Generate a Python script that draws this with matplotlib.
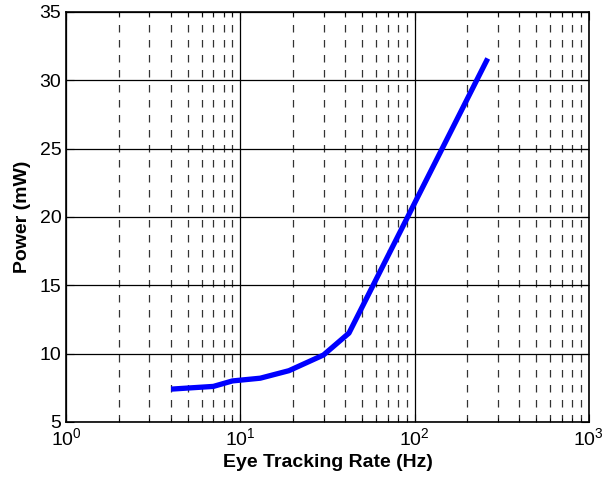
import numpy as np
import matplotlib.pyplot as plt
from matplotlib.ticker import LogLocator, NullFormatter

plt.rcParams["font.family"] = ["Liberation Sans", "DejaVu Sans"]

# eye tracking rate (Hz) vs power (mW)
rate_hz = [4, 7, 9, 13, 19, 30, 42, 263]
power_mw = [7.4, 7.6, 8.0, 8.2, 8.75, 9.9, 11.5, 31.6]

fig = plt.figure(figsize=(6.02, 4.8), dpi=100)
ax = fig.add_axes([0.11, 0.121, 0.868, 0.854])

ax.plot(rate_hz, power_mw, color="#0000ff", lw=3.8, solid_capstyle="butt", zorder=3)

ax.set_xscale("log")
ax.set_xlim(1, 1000)
ax.set_ylim(5, 35)
ax.set_yticks(np.arange(5, 36, 5))
ax.xaxis.set_minor_locator(LogLocator(base=10, subs=np.arange(2, 10)))
ax.xaxis.set_minor_formatter(NullFormatter())

ax.grid(True, which="major", color="black", ls="-", lw=0.9)
ax.grid(True, which="minor", axis="x", color="#333333", ls=(0, (6, 6)), lw=0.9)

ax.tick_params(which="both", direction="in", top=True, right=True, labelsize=14)
ax.tick_params(which="major", length=6)
ax.tick_params(which="minor", length=3)
for s in ax.spines.values():
    s.set_linewidth(1.2)

ax.set_xlabel("Eye Tracking Rate (Hz)", fontsize=14, fontweight="bold", labelpad=4)
ax.set_ylabel("Power (mW)", fontsize=14, fontweight="bold", labelpad=6)

fig.savefig("out.png", dpi=100)
